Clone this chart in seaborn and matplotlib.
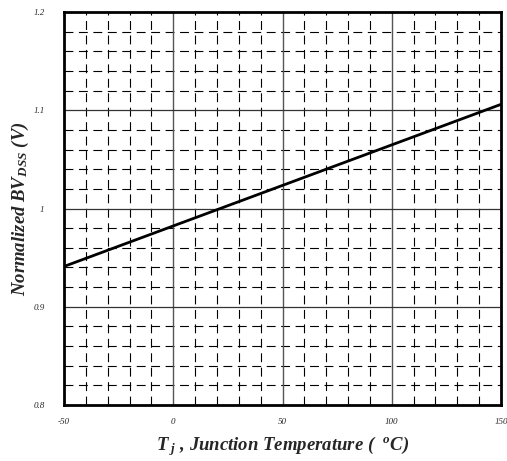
import numpy as np
import pandas as pd
import matplotlib
matplotlib.use("Agg")
import matplotlib.pyplot as plt
import seaborn as sns

temps = [-50, 150]
bvdss = [0.941, 1.106]
xticks = [-50, 0, 50, 100, 150]
yticks = [0.8, 0.9, 1.0, 1.1, 1.2]
yticklabels = ["0.8", "0.9", "1", "1.1", "1.2"]

sns.set_theme(style="white")
plt.rcParams['font.family'] = ['Liberation Serif', 'DejaVu Serif']
plt.rcParams['mathtext.fontset'] = 'custom'
plt.rcParams['mathtext.rm'] = 'Liberation Serif:italic:bold'
plt.rcParams['mathtext.it'] = 'Liberation Serif:italic:bold'
plt.rcParams['mathtext.bf'] = 'Liberation Serif:italic:bold'

fig = plt.figure(figsize=(5.07, 4.61), dpi=100)
ax = fig.add_axes([64/507, 56/461, 437/507, 393/461])

df = pd.DataFrame({"T": temps, "BV": bvdss})

dash = (0, (8, 5))
for xv in np.arange(-40, 150, 10):
    if xv % 50 != 0:
        ax.axvline(xv, color="black", lw=0.8, ls=dash, zorder=1)
for yv in np.arange(0.82, 1.2, 0.02):
    if abs(round(yv * 10) - yv * 10) > 1e-6:
        ax.axhline(yv, color="black", lw=0.8, ls=dash, zorder=1)
for xv in [0, 50, 100]:
    ax.axvline(xv, color="#555555", lw=1.0, zorder=1.5)
for yv in [0.9, 1.0, 1.1]:
    ax.axhline(yv, color="#333333", lw=0.9, zorder=1.5)

sns.lineplot(data=df, x="T", y="BV", ax=ax, color="black", lw=2.0, zorder=3)

ax.set_xlim(-50, 150)
ax.set_ylim(0.8, 1.2)
ax.set_xticks(xticks)
ax.set_xticklabels([str(v) for v in xticks], fontsize=6.5, fontstyle="italic")
ax.set_yticks(yticks)
ax.set_yticklabels(yticklabels, fontsize=6.5, fontstyle="italic")
ax.tick_params(length=0, pad=9)
ax.tick_params(axis="y", pad=14)

for s in ax.spines.values():
    s.set_color("black")
    s.set_linewidth(2.0)

ax.set_xlabel(r"$T_{\ j}$ , Junction Temperature (  $^{o}$C)", fontsize=13.5,
              fontweight="bold", fontstyle="italic")
ax.set_ylabel(r"Normalized BV$_{\mathit{DSS}}$ (V)", fontsize=13.5,
              fontweight="bold", fontstyle="italic")
ax.xaxis.label.set_va("center")
ax.xaxis.set_label_coords(0.5, -(446 - 405) / 393)
ax.yaxis.label.set_va("center")
ax.yaxis.set_label_coords(-(64 - 20) / 437, 0.5)

fig.savefig("out.png", dpi=100)
